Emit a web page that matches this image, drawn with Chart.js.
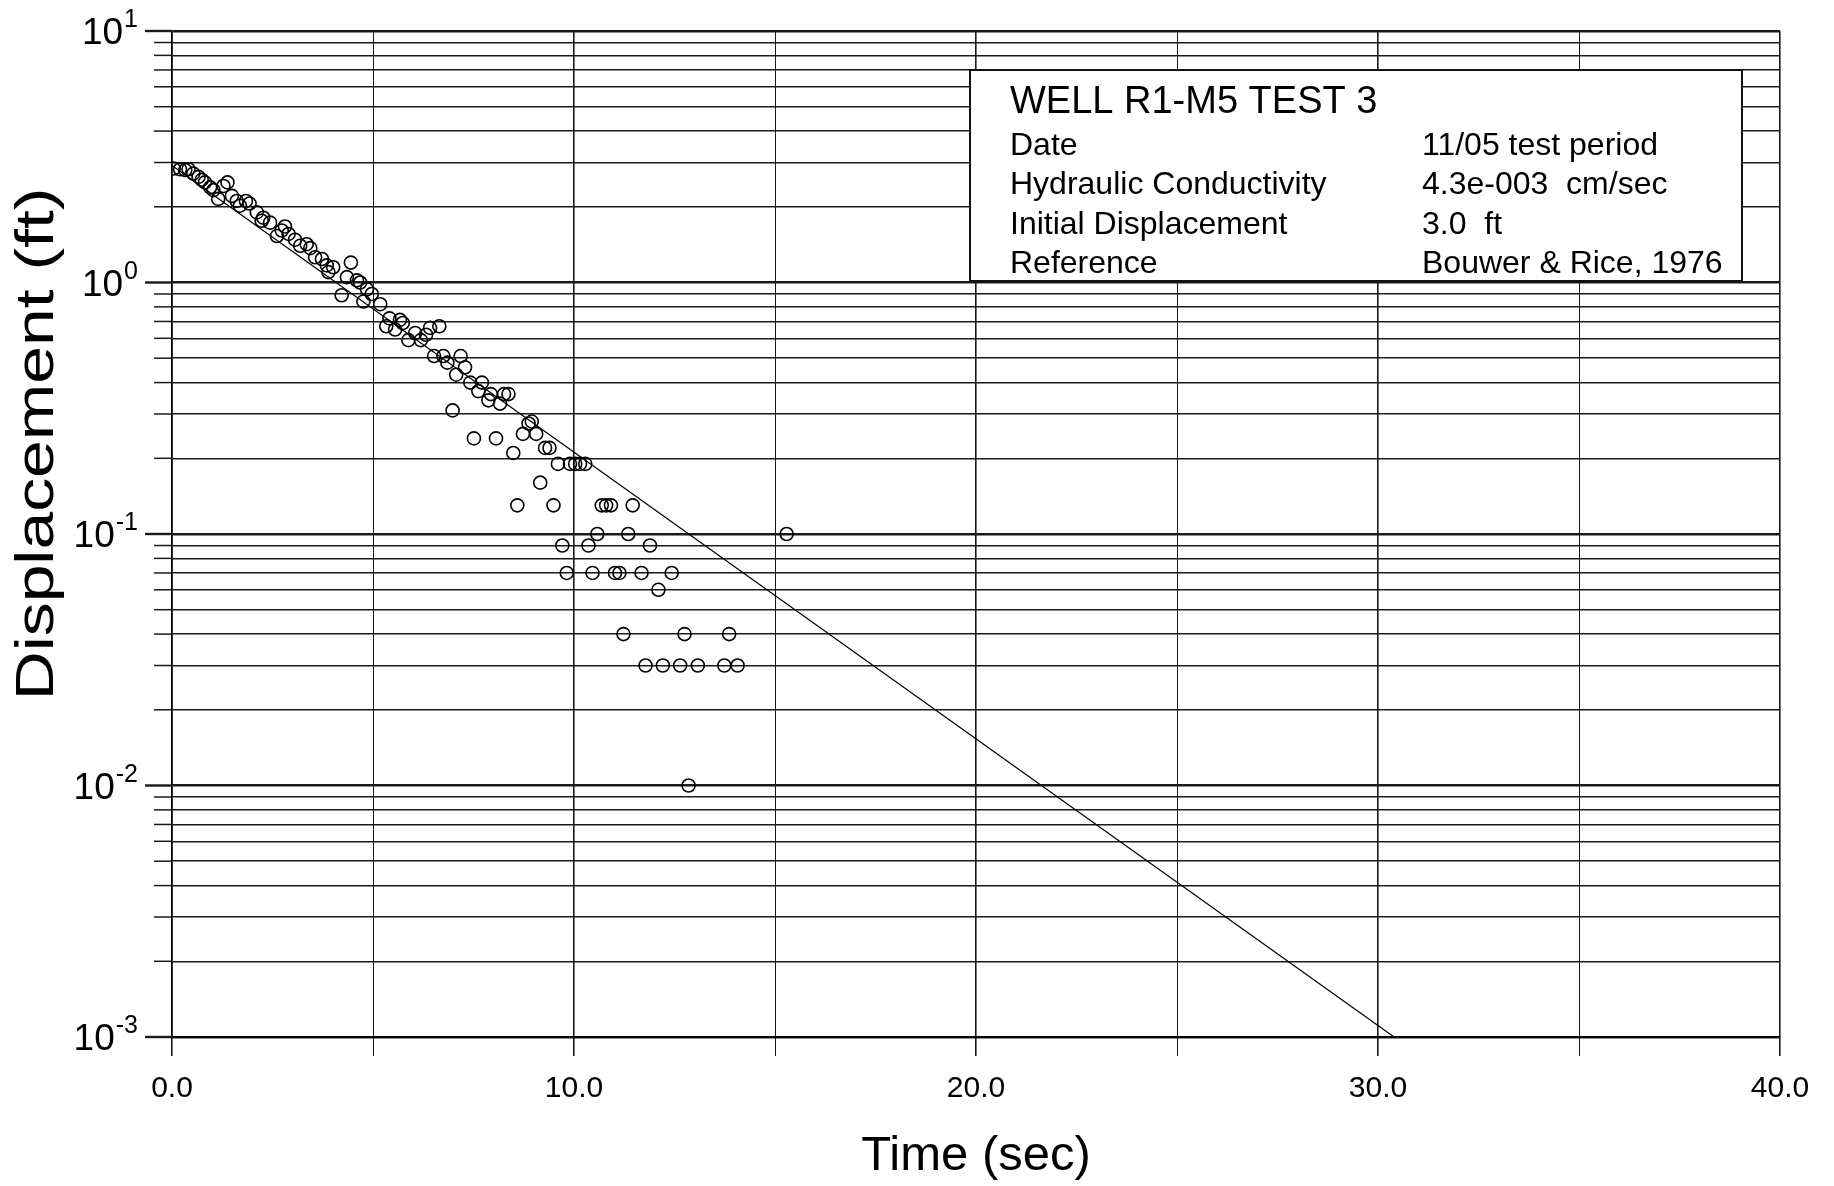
<!DOCTYPE html>
<html><head><meta charset="utf-8">
<script src="https://cdn.jsdelivr.net/npm/chart.js@4.4.0/dist/chart.umd.min.js"></script>
<style>html,body{margin:0;padding:0;background:#fff;}#wrap{width:1834px;height:1186px;position:relative;}canvas{display:block;}</style>
</head><body><div id="wrap"><canvas id="c" width="1834" height="1186"></canvas></div>
<script>
// ---- data ----
const timeSec = [0.04,0.20,0.33,0.41,0.53,0.66,0.74,0.82,0.95,1.03,1.15,1.28,1.38,1.49,1.61,1.69,1.84,1.93,2.11,2.23,2.27,2.44,2.61,2.73,2.81,2.90,3.06,3.19,3.35,3.44,3.56,3.73,3.85,3.89,4.01,4.22,4.35,4.45,4.60,4.68,4.76,4.85,4.97,5.18,5.33,5.41,5.55,5.67,5.74,5.88,6.05,6.19,6.32,6.42,6.52,6.65,6.75,6.85,6.98,7.07,7.18,7.29,7.42,7.51,7.62,7.71,7.87,7.93,8.06,8.16,8.26,8.37,8.49,8.59,8.73,8.87,8.95,9.06,9.16,9.28,9.39,9.49,9.60,9.71,9.82,9.90,10.03,10.15,10.28,10.36,10.46,10.58,10.69,10.80,10.92,11.02,11.13,11.23,11.35,11.46,11.68,11.78,11.89,12.10,12.21,12.43,12.64,12.75,12.85,13.08,13.74,13.86,14.07,15.29];
const displacementFt = [2.84,2.82,2.80,2.82,2.71,2.63,2.56,2.50,2.39,2.33,2.15,2.42,2.50,2.21,2.11,2.02,2.11,2.06,1.90,1.76,1.81,1.73,1.53,1.61,1.67,1.56,1.48,1.40,1.42,1.37,1.26,1.24,1.17,1.10,1.15,0.89,1.05,1.20,1.02,1.00,0.84,0.94,0.90,0.82,0.67,0.72,0.65,0.71,0.69,0.59,0.63,0.59,0.62,0.66,0.51,0.67,0.51,0.48,0.31,0.43,0.51,0.46,0.40,0.24,0.37,0.40,0.34,0.36,0.24,0.33,0.36,0.36,0.21,0.13,0.25,0.275,0.28,0.25,0.16,0.22,0.22,0.13,0.19,0.09,0.07,0.19,0.19,0.19,0.19,0.09,0.07,0.10,0.13,0.13,0.13,0.07,0.07,0.04,0.10,0.13,0.07,0.03,0.09,0.06,0.03,0.07,0.03,0.04,0.01,0.03,0.03,0.04,0.03,0.10];
const fitLineTime = [0, 30.4];
const fitLineDisp = [2.92, 0.001];
const xTickLabels = ['0.0','10.0','20.0','30.0','40.0'];
const yDecadeExps = [-3,-2,-1,0,1];
const yDecadeBase = '10';
const yDecadeExpLabels = ['-3','-2','-1','0','1'];
const legendTitle = 'WELL R1-M5 TEST 3';
const legendKeys = ['Date','Hydraulic Conductivity','Initial Displacement','Reference'];
const legendVals = ['11/05 test period','4.3e-003  cm/sec','3.0  ft','Bouwer & Rice, 1976'];
const xTitle = 'Time (sec)';
const yTitle = 'Displacement (ft)';

const FONT = '"Liberation Sans", Arial, Helvetica, sans-serif';

// y ticks: 1..9 per decade plus top decade
const yTickValues = [];
for (let e = -3; e <= 0; e++) {
  for (let m = 1; m <= 9; m++) yTickValues.push(Number((m * Math.pow(10, e)).toPrecision(3)));
}
yTickValues.push(10);
function decadeIndex(v) {
  const l = Math.log10(v);
  const r = Math.round(l);
  return Math.abs(l - r) < 1e-9 ? yDecadeExps.indexOf(r) : -1;
}

// y axis: tick marks of two lengths, power-of-ten labels, rotated title
const yAxisDecor = {
  id: 'yAxisDecor',
  afterDraw(chart) {
    const ctx = chart.ctx;
    const ys = chart.scales.y;
    const left = chart.chartArea.left;
    ctx.save();
    ctx.strokeStyle = '#1a1a1a';
    ys.ticks.forEach(t => {
      const y = ys.getPixelForValue(t.value);
      const major = decadeIndex(t.value) >= 0;
      ctx.lineWidth = major ? 2.4 : 1.5;
      ctx.beginPath();
      ctx.moveTo(left - (major ? 27 : 18), y);
      ctx.lineTo(left, y);
      ctx.stroke();
    });
    ctx.fillStyle = '#000';
    ctx.textBaseline = 'alphabetic';
    ys.ticks.forEach(t => {
      const i = decadeIndex(t.value);
      if (i < 0) return;
      const y = ys.getPixelForValue(t.value);
      const expRight = left - 34;
      ctx.font = '25px ' + FONT;
      ctx.textAlign = 'right';
      const ew = ctx.measureText(yDecadeExpLabels[i]).width;
      ctx.fillText(yDecadeExpLabels[i], expRight, y - 4);
      ctx.font = '37px ' + FONT;
      ctx.fillText(yDecadeBase, expRight - ew - 1, y + 13);
    });
    // axis title
    ctx.save();
    ctx.translate(53, 444);
    ctx.rotate(-Math.PI / 2);
    ctx.scale(1.28, 1);
    ctx.font = '53px ' + FONT;
    ctx.textAlign = 'center';
    ctx.textBaseline = 'alphabetic';
    ctx.fillText(yTitle, 0, 0);
    ctx.restore();
    ctx.restore();
  }
};

const legendBox = {
  id: 'legendBox',
  afterDraw(chart) {
    const ctx = chart.ctx;
    const L = 970, T = 70, W = 772, H = 211;
    ctx.save();
    ctx.fillStyle = '#fff';
    ctx.fillRect(L, T, W, H);
    ctx.strokeStyle = '#111';
    ctx.lineWidth = 2;
    ctx.strokeRect(L, T, W, H);
    ctx.fillStyle = '#000';
    ctx.textBaseline = 'alphabetic';
    ctx.textAlign = 'left';
    ctx.font = '38px ' + FONT;
    ctx.fillText(legendTitle, 1010, 113);
    ctx.font = '32px ' + FONT;
    const rows = [155, 194, 233.5, 273];
    legendKeys.forEach((k, i) => {
      ctx.fillText(k, 1010, rows[i]);
      ctx.fillText(legendVals[i], 1422, rows[i]);
    });
    ctx.restore();
  }
};

const pts = timeSec.map((t, i) => ({x: t, y: displacementFt[i]}));
const fit = fitLineTime.map((t, i) => ({x: t, y: fitLineDisp[i]}));

new Chart(document.getElementById('c'), {
  type: 'scatter',
  data: {
    datasets: [
      {
        data: pts,
        pointStyle: 'circle',
        pointRadius: 6.5,
        pointBorderWidth: 1.6,
        pointBackgroundColor: 'rgba(0,0,0,0)',
        pointBorderColor: '#000',
        showLine: false
      },
      {
        data: fit,
        showLine: true,
        borderColor: '#000',
        borderWidth: 1.2,
        pointRadius: 0,
        fill: false
      }
    ]
  },
  options: {
    responsive: false,
    animation: false,
    devicePixelRatio: 1,
    layout: { padding: { left: 0, right: 54, top: 31, bottom: 0 } },
    plugins: { legend: { display: false }, tooltip: { enabled: false }, title: { display: false } },
    scales: {
      x: {
        type: 'linear', min: 0, max: 40,
        afterFit(s) { s.height = 149; },
        ticks: {
          stepSize: 5, autoSkip: false, maxRotation: 0, padding: 15,
          color: '#000', font: { family: FONT, size: 30 },
          callback: (v) => (v % 10 === 0 ? xTickLabels[v / 10] : '')
        },
        grid: {
          color: '#1a1a1a',
          lineWidth: (c) => (c.tick && c.tick.value % 10 === 0 ? 1.6 : 1),
          tickLength: 19, drawTicks: true
        },
        border: { display: true, color: '#000', width: 1.6 },
        title: { display: true, text: xTitle, color: '#000', font: { family: FONT, size: 49 }, padding: { top: 0, bottom: 0 } }
      },
      y: {
        type: 'logarithmic', min: 0.001, max: 10,
        afterFit(s) { s.width = 172; },
        afterBuildTicks(s) { s.ticks = yTickValues.map(v => ({ value: v, major: decadeIndex(v) >= 0 })); },
        ticks: { display: false, autoSkip: false },
        grid: {
          color: '#1a1a1a',
          lineWidth: (c) => (c.tick && decadeIndex(c.tick.value) >= 0 ? 2.4 : 1.5),
          drawTicks: false
        },
        border: { display: true, color: '#000', width: 1.6 },
        title: { display: false }
      }
    }
  },
  plugins: [yAxisDecor, legendBox]
});
</script>
</body></html>
